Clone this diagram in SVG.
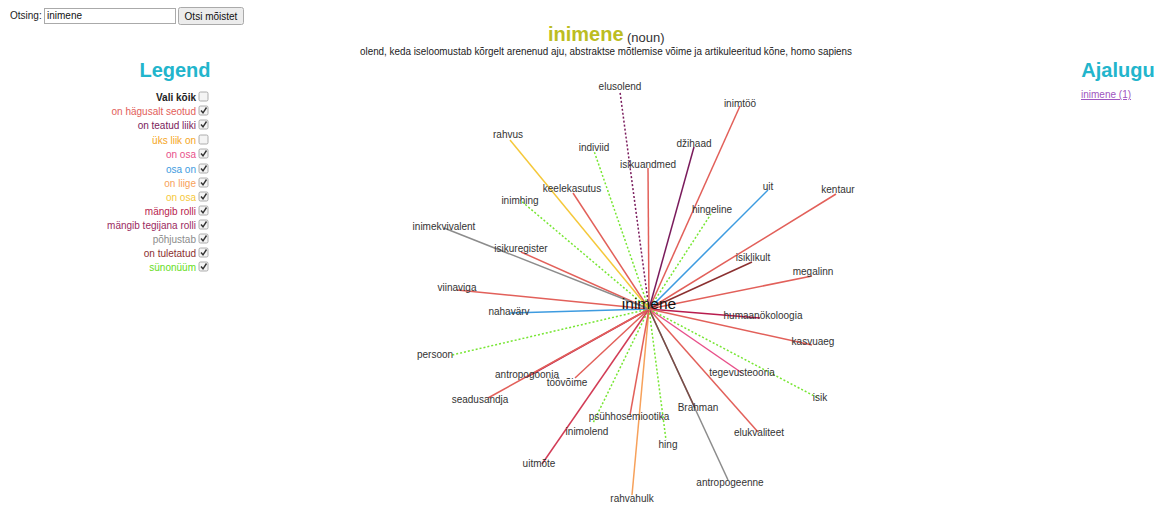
<svg xmlns="http://www.w3.org/2000/svg" width="1159" height="506" viewBox="0 0 1159 506">
<style>
text{font-family:"Liberation Sans",Arial,sans-serif;}
.lbl{font-size:10px;fill:#333;text-anchor:middle;}
.lg{font-size:10px;text-anchor:end;}
.cb{fill:#f4f4f4;stroke:#999;stroke-width:0.8;}
.ck{fill:none;stroke:#333;stroke-width:1.4;}
.e{stroke-width:1.5;fill:none;}
.dot{stroke-dasharray:2,2;}
.red{stroke:#e2605a;}
.pur{stroke:#7a1b5c;}
.blu{stroke:#3d9be0;}
.grn{stroke:#77e633;}
.yel{stroke:#f5c83a;}
.org{stroke:#f7a15a;}
.pnk{stroke:#e8508a;}
.mag{stroke:#b81c4e;}
.crm{stroke:#d23c56;}
.gry{stroke:#8c8c8c;}
.brn{stroke:#7a4a45;}
.dbr{stroke:#8b3030;}
.hd{font-size:20px;font-weight:bold;fill:#22b5cc;text-anchor:middle;}
</style>
<defs>
<g id="cbox"><rect class="cb" x="0" y="0" width="9" height="9" rx="1.5"/></g>
<g id="cboxc"><rect class="cb" x="0" y="0" width="9" height="9" rx="1.5"/><path class="ck" d="M2 4.5 L4 6.8 L7.5 1.5"/></g>
</defs>
<rect width="1159" height="506" fill="#fff"/>

<g id="search">
<text x="10" y="19" font-size="10" fill="#222">Otsing:</text>
<rect x="44.5" y="8.5" width="131" height="15" fill="#fff" stroke="#aaa"/>
<text x="47" y="19" font-size="10" fill="#111">inimene</text>
<rect x="178.5" y="7.5" width="65" height="17" rx="2" fill="#ececec" stroke="#aaa"/>
<text x="211" y="19.5" font-size="10" fill="#111" text-anchor="middle">Otsi mõistet</text>
</g>

<g id="title">
<text x="548" y="41" font-size="20" font-weight="bold" fill="#bcbd22">inimene</text>
<text x="627" y="42" font-size="13" fill="#333">(noun)</text>
<text x="360" y="55" font-size="10" fill="#222" textLength="492" lengthAdjust="spacingAndGlyphs">olend, keda iseloomustab kõrgelt arenenud aju, abstraktse mõtlemise võime ja artikuleeritud kõne, homo sapiens</text>
</g>

<g id="legend">
<text class="hd" x="175" y="77">Legend</text>
<text class="lg" x="196" y="101" font-weight="bold" fill="#222">Vali kõik</text><use href="#cbox" x="199" y="92"/>
<text class="lg" x="196" y="115" fill="#e2605a">on hägusalt seotud</text><use href="#cboxc" x="199" y="106"/>
<text class="lg" x="196" y="129" fill="#7a1b5c">on teatud liiki</text><use href="#cboxc" x="199" y="120"/>
<text class="lg" x="196" y="144" fill="#f5a623">üks liik on</text><use href="#cbox" x="199" y="135"/>
<text class="lg" x="196" y="158" fill="#e8508a">on osa</text><use href="#cboxc" x="199" y="149"/>
<text class="lg" x="196" y="173" fill="#3d9be0">osa on</text><use href="#cboxc" x="199" y="164"/>
<text class="lg" x="196" y="187" fill="#f7a15a">on liige</text><use href="#cboxc" x="199" y="178"/>
<text class="lg" x="196" y="201" fill="#f5c83a">on osa</text><use href="#cboxc" x="199" y="192"/>
<text class="lg" x="196" y="215" fill="#b81c4e">mängib rolli</text><use href="#cboxc" x="199" y="206"/>
<text class="lg" x="196" y="229" fill="#9b2a5f">mängib tegijana rolli</text><use href="#cboxc" x="199" y="220"/>
<text class="lg" x="196" y="243" fill="#8c8c8c">põhjustab</text><use href="#cboxc" x="199" y="234"/>
<text class="lg" x="196" y="257" fill="#8b3030">on tuletatud</text><use href="#cboxc" x="199" y="248"/>
<text class="lg" x="196" y="271" fill="#66dd22">sünonüüm</text><use href="#cboxc" x="199" y="262"/>
</g>

<g id="history">
<text class="hd" x="1118" y="77">Ajalugu</text>
<text x="1081" y="98" font-size="10" fill="#a055c0" text-decoration="underline">inimene (1)</text>
</g>

<g id="connectors">
<line class="e pur dot" x1="649" y1="309" x2="620" y2="92"/>
<line class="e red" x1="649" y1="309" x2="740" y2="106"/>
<line class="e pur" x1="649" y1="309" x2="694" y2="147"/>
<line class="e red" x1="649" y1="309" x2="648" y2="168"/>
<line class="e blu" x1="649" y1="309" x2="768" y2="190"/>
<line class="e red" x1="649" y1="309" x2="836" y2="194"/>
<line class="e grn dot" x1="649" y1="309" x2="711" y2="214"/>
<line class="e dbr" x1="649" y1="309" x2="752" y2="262"/>
<line class="e red" x1="649" y1="309" x2="812" y2="276"/>
<line class="e mag" x1="649" y1="309" x2="760" y2="318"/>
<line class="e red" x1="649" y1="309" x2="812" y2="345"/>
<line class="e pnk" x1="649" y1="309" x2="742" y2="373"/>
<line class="e grn dot" x1="649" y1="309" x2="818" y2="398"/>
<line class="e red" x1="649" y1="309" x2="758" y2="432"/>
<line class="e gry" x1="649" y1="309" x2="728" y2="480"/>
<line class="e brn" x1="649" y1="309" x2="695" y2="408"/>
<line class="e grn dot" x1="649" y1="309" x2="666" y2="440"/>
<line class="e org" x1="649" y1="309" x2="632" y2="495"/>
<line class="e red" x1="649" y1="309" x2="630" y2="415"/>
<line class="e grn dot" x1="649" y1="309" x2="593" y2="423"/>
<line class="e crm" x1="649" y1="309" x2="542" y2="464"/>
<line class="e red" x1="649" y1="309" x2="575" y2="378"/>
<line class="e mag" x1="649" y1="309" x2="527" y2="377"/>
<line class="e red" x1="649" y1="309" x2="488" y2="398"/>
<line class="e grn dot" x1="649" y1="309" x2="452" y2="355"/>
<line class="e blu" x1="649" y1="309" x2="510" y2="313"/>
<line class="e red" x1="649" y1="309" x2="457" y2="290"/>
<line class="e red" x1="649" y1="309" x2="521" y2="252"/>
<line class="e gry" x1="649" y1="309" x2="444" y2="228"/>
<line class="e grn dot" x1="649" y1="309" x2="520" y2="200"/>
<line class="e red" x1="649" y1="309" x2="573" y2="193"/>
<line class="e yel" x1="649" y1="309" x2="510" y2="140"/>
<line class="e grn dot" x1="649" y1="309" x2="594" y2="151"/>
</g>

<g id="n-elusolend"><text class="lbl" x="620" y="90">elusolend</text></g>
<g id="n-inimtoo"><text class="lbl" x="740" y="107">inimtöö</text></g>
<g id="n-dzihaad"><text class="lbl" x="694" y="147">džihaad</text></g>
<g id="n-isikuandmed"><text class="lbl" x="648" y="168">isikuandmed</text></g>
<g id="n-uit"><text class="lbl" x="768" y="190">uit</text></g>
<g id="n-kentaur"><text class="lbl" x="838" y="193">kentaur</text></g>
<g id="n-hingeline"><text class="lbl" x="712" y="213">hingeline</text></g>
<g id="n-isiklikult"><text class="lbl" x="753" y="261">isiklikult</text></g>
<g id="n-megalinn"><text class="lbl" x="813" y="275">megalinn</text></g>
<g id="n-humaanokoloogia"><text class="lbl" x="763" y="319">humaanökoloogia</text></g>
<g id="n-kasvuaeg"><text class="lbl" x="813" y="345">kasvuaeg</text></g>
<g id="n-tegevusteooria"><text class="lbl" x="742" y="376">tegevusteooria</text></g>
<g id="n-isik"><text class="lbl" x="820" y="401">isik</text></g>
<g id="n-elukvaliteet"><text class="lbl" x="759" y="436">elukvaliteet</text></g>
<g id="n-antropogeenne"><text class="lbl" x="730" y="486">antropogeenne</text></g>
<g id="n-brahman"><text class="lbl" x="698" y="411">Brahman</text></g>
<g id="n-hing"><text class="lbl" x="668" y="448">hing</text></g>
<g id="n-rahvahulk"><text class="lbl" x="632" y="502">rahvahulk</text></g>
<g id="n-psuhhosemiootika"><text class="lbl" x="629" y="420">psühhosemiootika</text></g>
<g id="n-inimolend"><text class="lbl" x="587" y="435">inimolend</text></g>
<g id="n-uitmote"><text class="lbl" x="539" y="467">uitmõte</text></g>
<g id="n-toovoime"><text class="lbl" x="567" y="386">töövõime</text></g>
<g id="n-antropogoonia"><text class="lbl" x="527" y="378">antropogoonia</text></g>
<g id="n-seadusandja"><text class="lbl" x="480" y="403">seadusandja</text></g>
<g id="n-persoon"><text class="lbl" x="435" y="358">persoon</text></g>
<g id="n-nahavarv"><text class="lbl" x="509" y="315">nahavärv</text></g>
<g id="n-viinaviga"><text class="lbl" x="457" y="291">viinaviga</text></g>
<g id="n-isikuregister"><text class="lbl" x="521" y="252">isikuregister</text></g>
<g id="n-inimekvivalent"><text class="lbl" x="444" y="230">inimekvivalent</text></g>
<g id="n-inimhing"><text class="lbl" x="520" y="204">inimhing</text></g>
<g id="n-keelekasutus"><text class="lbl" x="572" y="192">keelekasutus</text></g>
<g id="n-rahvus"><text class="lbl" x="508" y="138">rahvus</text></g>
<g id="n-indiviid"><text class="lbl" x="594" y="151">indiviid</text></g>
<g id="n-inimene"><text x="649" y="309" font-size="15.5" fill="#111" text-anchor="middle">inimene</text></g>
</svg>
